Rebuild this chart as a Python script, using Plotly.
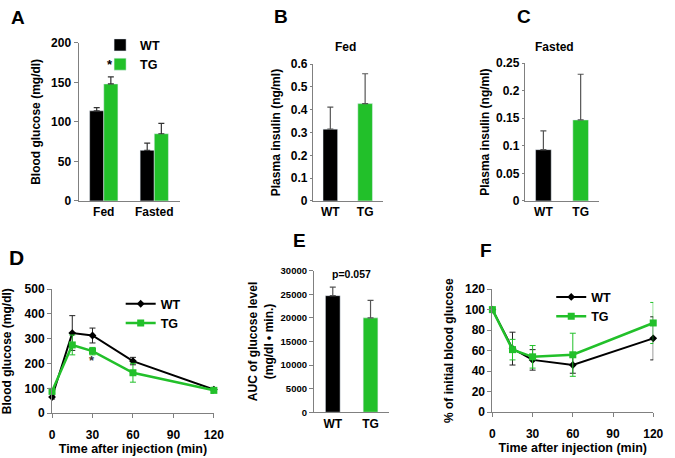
import plotly.graph_objects as go

GREEN = "#22c02a"
AXC = "#808080"
FONT = "Liberation Sans, Arial, sans-serif"

# ---- data ----
A_cats = ["Fed", "Fasted"]
A_wt = [114, 64]
A_wt_err = [4, 9]
A_tg = [148, 85]
A_tg_err = [9, 13]

geno = ["WT", "TG"]
B_vals = [0.315, 0.427]
B_err = [0.097, 0.131]
C_vals = [0.093, 0.147]
C_err = [0.034, 0.083]

time = [0, 15, 30, 60, 120]
D_wt = [65, 323, 313, 210, 95]
D_wt_err = [8, 70, 30, 15, 6]
D_tg = [88, 275, 250, 163, 92]
D_tg_err = [10, 40, 15, 38, 12]

E_vals = [24700, 20000]
E_err = [1800, 3700]

F_wt = [100, 62, 51, 46, 72]
F_wt_err = [0, 16, 10, 8, 21]
F_tg = [100, 61, 54, 56, 87]
F_tg_err = [0, 10, 11, 21, 20]

W, H = 675, 458
def px(p): return p / W
def py(p): return 1 - p / H

fig = go.Figure()

def up_err(vals, color, width=3):
    return dict(type="data", array=vals, arrayminus=[0] * len(vals), symmetric=False,
                color=color, thickness=1.2, width=width)

# A
fig.add_trace(go.Bar(x=A_cats, y=A_wt, name="WT", marker_color="black", width=0.28, offset=-0.28,
                     error_y=up_err(A_wt_err, "#333"), xaxis="x", yaxis="y", legend="legend"))
fig.add_trace(go.Bar(x=A_cats, y=A_tg, name="TG", marker_color=GREEN, width=0.28, offset=0,
                     error_y=up_err(A_tg_err, "#333"), xaxis="x", yaxis="y", legend="legend"))
# B
fig.add_trace(go.Bar(x=geno, y=B_vals, marker_color=["black", GREEN], width=0.42, showlegend=False,
                     error_y=up_err(B_err, "#555"), xaxis="x2", yaxis="y2"))
# C
fig.add_trace(go.Bar(x=geno, y=C_vals, marker_color=["black", GREEN], width=0.42, showlegend=False,
                     error_y=up_err(C_err, "#555"), xaxis="x3", yaxis="y3"))
# D
fig.add_trace(go.Scatter(x=time, y=D_wt, name="WT", mode="lines+markers", cliponaxis=False,
                         line=dict(color="black", width=2), marker=dict(symbol="diamond", size=6, color="black"),
                         error_y=dict(type="data", array=D_wt_err, color="#222", thickness=1, width=3),
                         xaxis="x4", yaxis="y4", legend="legend2"))
fig.add_trace(go.Scatter(x=time, y=D_tg, name="TG", mode="lines+markers", cliponaxis=False,
                         line=dict(color=GREEN, width=2.5), marker=dict(symbol="square", size=7, color=GREEN),
                         error_y=dict(type="data", array=D_tg_err, color=GREEN, thickness=1, width=3),
                         xaxis="x4", yaxis="y4", legend="legend2"))
# E
fig.add_trace(go.Bar(x=geno, y=E_vals, marker_color=["black", GREEN], width=0.39, showlegend=False,
                     error_y=up_err(E_err, "#555"), xaxis="x5", yaxis="y5"))
# F
fig.add_trace(go.Scatter(x=time, y=F_wt, name="WT", mode="lines+markers", cliponaxis=False,
                         line=dict(color="black", width=2), marker=dict(symbol="diamond", size=6, color="black"),
                         error_y=dict(type="data", array=F_wt_err, color="#222", thickness=1, width=3),
                         xaxis="x6", yaxis="y6", legend="legend3"))
fig.add_trace(go.Scatter(x=time, y=F_tg, name="TG", mode="lines+markers", cliponaxis=False,
                         line=dict(color=GREEN, width=2.5), marker=dict(symbol="square", size=7, color=GREEN),
                         error_y=dict(type="data", array=F_tg_err, color=GREEN, thickness=1, width=3),
                         xaxis="x6", yaxis="y6", legend="legend3"))

tickfont = dict(family=FONT, size=12, color="black", weight="bold")
titlefont = dict(family=FONT, size=12, color="black", weight="bold")

def xax(dom, anchor, ticks="", **kw):
    d = dict(domain=[px(dom[0]), px(dom[1])], anchor=anchor, showline=True, linecolor=AXC, linewidth=1,
             showgrid=False, zeroline=False, ticks=ticks, ticklen=4, tickcolor=AXC, tickfont=tickfont,
             fixedrange=True)
    d.update(kw)
    return d

def yax(dom, anchor, rng, dtick, title, standoff, **kw):
    d = dict(domain=[py(dom[1]), py(dom[0])], anchor=anchor, range=rng, dtick=dtick, showline=True,
             linecolor=AXC, linewidth=1, showgrid=False, zeroline=False, ticks="outside", ticklen=4,
             tickcolor=AXC, tickfont=tickfont, title=dict(text=title, font=titlefont, standoff=standoff),
             fixedrange=True)
    d.update(kw)
    return d

xtitle = dict(text="Time after injection (min)", font=dict(family=FONT, size=12.5, weight="bold", color="black"), standoff=2)

fig.update_layout(
    width=W, height=H, margin=dict(l=0, r=0, t=0, b=0), paper_bgcolor="white", plot_bgcolor="white",
    font=dict(family=FONT, color="black", weight="bold"), barmode="overlay",
    xaxis=xax((77, 180), "y", range=[-0.5, 1.5]),
    yaxis=yax((37, 200), "x", [0, 200], 50, "Blood glucose (mg/dl)", 7),
    xaxis2=xax((316, 387), "y2", range=[-0.5, 1.5]),
    yaxis2=yax((59, 200), "x2", [0, 0.6], 0.1, "Plasma insulin (ng/ml)", 7, ticklen=2),
    xaxis3=xax((532, 608), "y3", range=[-0.5, 1.5]),
    yaxis3=yax((58, 200), "x3", [0, 0.25], 0.05, "Plasma insulin (ng/ml)", 3, ticklen=2),
    xaxis4=xax((50, 215), "y4", ticks="outside", range=[0, 120], dtick=30, ticklabelstandoff=6, title=xtitle),
    yaxis4=yax((291, 419), "x4", [0, 500], 100, "Blood glucose (mg/dl)", 12),
    xaxis5=xax((317, 394), "y5", range=[-0.5, 1.5]),
    yaxis5=yax((272, 418), "x5", [0, 30000], 5000, "AUC of glucose level<br>(mg/dl \u2022 min.)", 4,
               tickformat="d", tickfont=dict(family=FONT, size=9.5, color="black", weight="bold")),
    xaxis6=xax((499, 663), "y6", ticks="outside", range=[0, 120], dtick=30, ticklabelstandoff=6, title=xtitle),
    yaxis6=yax((291, 418), "x6", [0, 120], 20, "% of initial blood glucose", 8),
    legend=dict(x=px(99), y=py(24), xanchor="left", yanchor="top", bgcolor="rgba(0,0,0,0)",
                font=dict(family=FONT, size=12.5, weight="bold"), itemwidth=30, tracegroupgap=0),
    legend2=dict(x=px(120), y=py(291), xanchor="left", yanchor="top", bgcolor="rgba(0,0,0,0)",
                 font=dict(family=FONT, size=12.5, weight="bold"), itemwidth=30),
    legend3=dict(x=px(559), y=py(284), xanchor="left", yanchor="top", bgcolor="rgba(0,0,0,0)",
                 font=dict(family=FONT, size=12.5, weight="bold"), itemwidth=30),
)

ann = []
def letter(t, x, y, size=19):
    ann.append(dict(text=t, x=px(x), y=py(y), xref="paper", yref="paper", showarrow=False,
                    xanchor="left", yanchor="middle", font=dict(family=FONT, size=size, weight="bold", color="black")))
letter("A", 6, 11)
letter("B", 274, 10)
letter("C", 522, 10)
letter("D", 4, 258, 21)
letter("E", 294, 241)
letter("F", 484, 251)

def label(t, x, y, size=12):
    ann.append(dict(text=t, x=px(x), y=py(y), xref="paper", yref="paper", showarrow=False,
                    xanchor="center", yanchor="middle", font=dict(family=FONT, size=size, weight="bold", color="black")))
label("Fed", 349, 41)
label("Fasted", 562, 41)

ann.append(dict(text="*", x="Fed", y=172, xref="x", yref="y", xshift=6, showarrow=False,
                font=dict(family=FONT, size=13, weight="bold", color="black")))
ann.append(dict(text="*", x=30, y=212, xref="x4", yref="y4", showarrow=False,
                font=dict(family=FONT, size=13, weight="bold", color="#333")))
ann.append(dict(text="p=0.057", x=0.5, y=29400, xref="x5", yref="y5", showarrow=False,
                font=dict(family=FONT, size=10.5, weight="bold", color="black")))
fig.update_layout(annotations=ann)

fig.write_html("out.html", config={"displayModeBar": False, "staticPlot": True},
               post_script="document.body.style.margin='0px';document.body.style.overflow='hidden';")
